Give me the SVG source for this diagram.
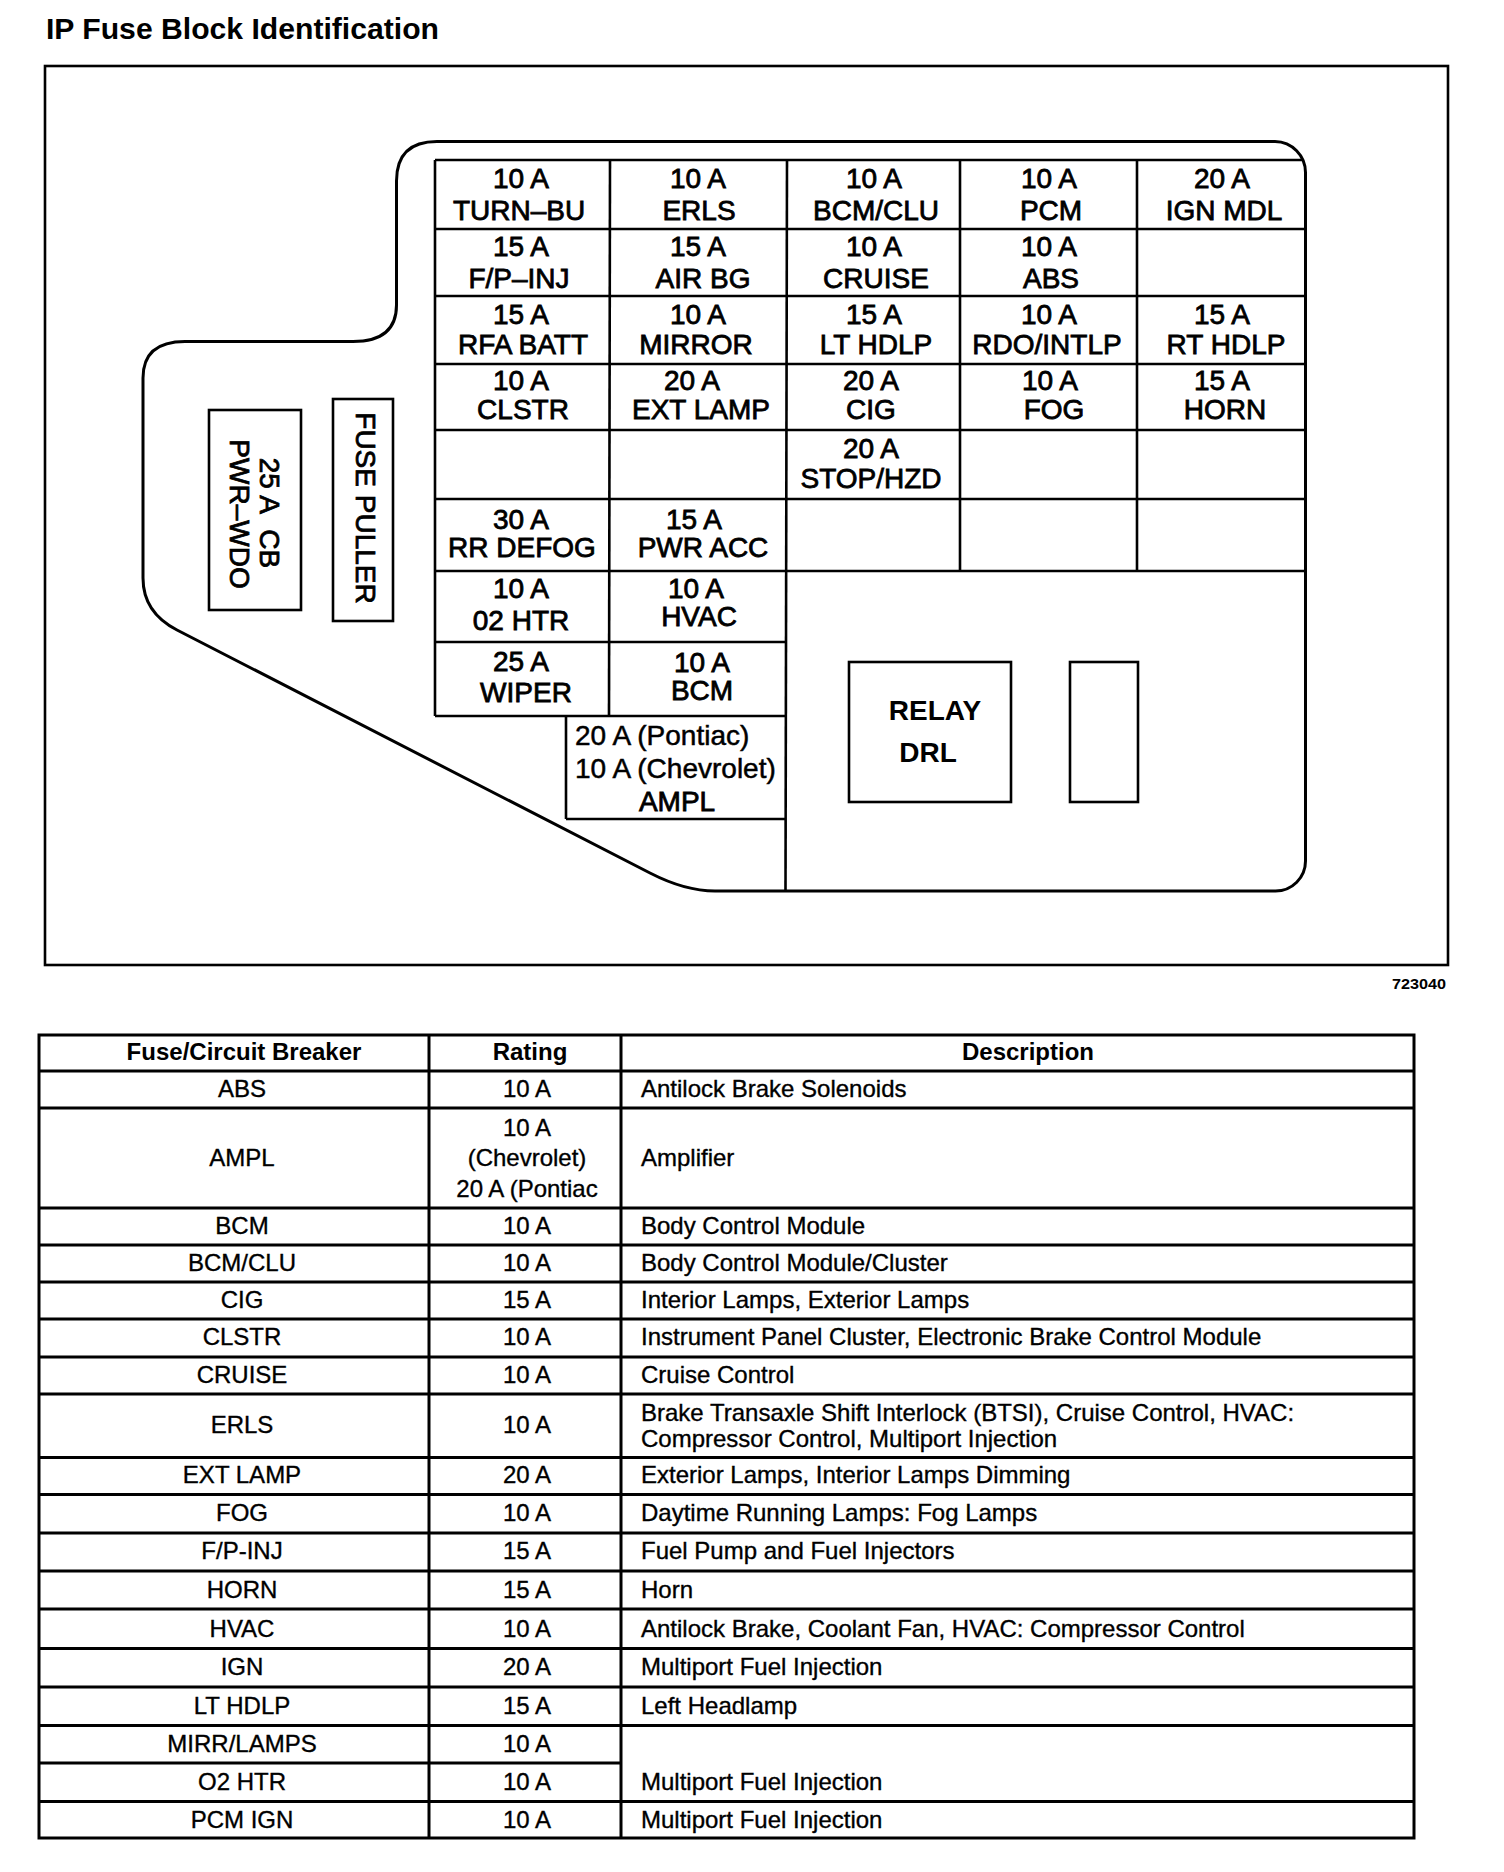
<svg xmlns="http://www.w3.org/2000/svg" width="1504" height="1872" viewBox="0 0 1504 1872">
<style>
text{font-family:"Liberation Sans",Arial,Helvetica,sans-serif;fill:#000}
.f{font-size:28px;text-anchor:middle;stroke:#000;stroke-width:0.8}
.fl{font-size:28px;text-anchor:start;stroke:#000;stroke-width:0.5}
.b{font-size:28px;font-weight:bold;text-anchor:middle}
.t{font-size:24px;text-anchor:middle;stroke:#000;stroke-width:0.35}
.d{font-size:24px;text-anchor:start;stroke:#000;stroke-width:0.35}
.h{font-size:24px;font-weight:bold;text-anchor:middle}
.ln{stroke:#000;stroke-width:3;fill:none}
.gl{stroke:#000;stroke-width:2.6;fill:none}
.box{stroke:#000;stroke-width:2.6;fill:#fff}
</style>
<rect width="1504" height="1872" fill="#fff"/>
<text id="title" x="46" y="39" font-size="29" font-weight="bold" textLength="393" lengthAdjust="spacingAndGlyphs">IP Fuse Block Identification</text>
<rect id="frame" x="45" y="66" width="1403" height="899" fill="none" stroke="#000" stroke-width="2.6"/>
<text id="figno" x="1446" y="989" font-size="14" font-weight="bold" text-anchor="end" textLength="54" lengthAdjust="spacingAndGlyphs">723040</text>

<g id="block-outline">
<path class="ln" d="M437,141.5 L1275,141.5 A31 31 0 0 1 1305.5,172.5 L1305.5,861 A30 30 0 0 1 1275.5,891 L715,891 Q685,891 650,873 L177,630 Q143,612.5 143,578 L143,378 Q143,341.5 185,341.5 L353,341.5 Q396.5,341.5 396.5,305 L396.5,181 Q396.5,141.5 437,141.5 Z"/>
</g>

<g id="grid">
<line class="gl" x1="435" y1="160" x2="1303.5" y2="160"/>
<line class="gl" x1="435" y1="229" x2="1305.5" y2="229"/>
<line class="gl" x1="435" y1="296" x2="1305.5" y2="296"/>
<line class="gl" x1="435" y1="364" x2="1305.5" y2="364"/>
<line class="gl" x1="435" y1="430" x2="1305.5" y2="430"/>
<line class="gl" x1="435" y1="499" x2="1305.5" y2="499"/>
<line class="gl" x1="435" y1="571" x2="1305.5" y2="571"/>
<line class="gl" x1="435" y1="642" x2="786" y2="642"/>
<line class="gl" x1="435" y1="716" x2="786" y2="716"/>
<line class="gl" x1="566" y1="819" x2="786" y2="819"/>
<line class="gl" x1="435" y1="160" x2="435" y2="716"/>
<line class="gl" x1="610" y1="160" x2="609" y2="716"/>
<line class="gl" x1="787" y1="160" x2="785.5" y2="891"/>
<line class="gl" x1="960" y1="160" x2="960" y2="571"/>
<line class="gl" x1="1137" y1="160" x2="1137" y2="571"/>
<line class="gl" x1="566" y1="716" x2="566" y2="819"/>
</g>

<g id="fuse-turn-bu"><text class="f" x="521" y="188">10 A</text><text class="f" x="519" y="220">TURN–BU</text></g>
<g id="fuse-erls"><text class="f" x="698" y="188">10 A</text><text class="f" x="699" y="220">ERLS</text></g>
<g id="fuse-bcm-clu"><text class="f" x="874" y="188">10 A</text><text class="f" x="876" y="220">BCM/CLU</text></g>
<g id="fuse-pcm"><text class="f" x="1049" y="188">10 A</text><text class="f" x="1051" y="220">PCM</text></g>
<g id="fuse-ign-mdl"><text class="f" x="1222" y="188">20 A</text><text class="f" x="1224" y="220">IGN MDL</text></g>

<g id="fuse-fp-inj"><text class="f" x="521" y="256">15 A</text><text class="f" x="519" y="288">F/P–INJ</text></g>
<g id="fuse-air-bg"><text class="f" x="698" y="256">15 A</text><text class="f" x="703" y="288">AIR BG</text></g>
<g id="fuse-cruise"><text class="f" x="874" y="256">10 A</text><text class="f" x="876" y="288">CRUISE</text></g>
<g id="fuse-abs"><text class="f" x="1049" y="256">10 A</text><text class="f" x="1051" y="288">ABS</text></g>

<g id="fuse-rfa-batt"><text class="f" x="521" y="324">15 A</text><text class="f" x="523" y="354">RFA BATT</text></g>
<g id="fuse-mirror"><text class="f" x="698" y="324">10 A</text><text class="f" x="696" y="354">MIRROR</text></g>
<g id="fuse-lt-hdlp"><text class="f" x="874" y="324">15 A</text><text class="f" x="876" y="354">LT HDLP</text></g>
<g id="fuse-rdo-intlp"><text class="f" x="1049" y="324">10 A</text><text class="f" x="1047" y="354">RDO/INTLP</text></g>
<g id="fuse-rt-hdlp"><text class="f" x="1222" y="324">15 A</text><text class="f" x="1226" y="354">RT HDLP</text></g>

<g id="fuse-clstr"><text class="f" x="521" y="390">10 A</text><text class="f" x="523" y="419">CLSTR</text></g>
<g id="fuse-ext-lamp"><text class="f" x="692" y="390">20 A</text><text class="f" x="701" y="419">EXT LAMP</text></g>
<g id="fuse-cig"><text class="f" x="871" y="390">20 A</text><text class="f" x="871" y="419">CIG</text></g>
<g id="fuse-fog"><text class="f" x="1050" y="390">10 A</text><text class="f" x="1054" y="419">FOG</text></g>
<g id="fuse-horn"><text class="f" x="1222" y="390">15 A</text><text class="f" x="1225" y="419">HORN</text></g>

<g id="fuse-stop-hzd"><text class="f" x="871" y="458">20 A</text><text class="f" x="871" y="488">STOP/HZD</text></g>

<g id="fuse-rr-defog"><text class="f" x="521" y="529">30 A</text><text class="f" x="522" y="557">RR DEFOG</text></g>
<g id="fuse-pwr-acc"><text class="f" x="694" y="529">15 A</text><text class="f" x="703" y="557">PWR ACC</text></g>

<g id="fuse-02-htr"><text class="f" x="521" y="598">10 A</text><text class="f" x="521" y="630">02 HTR</text></g>
<g id="fuse-hvac"><text class="f" x="696" y="598">10 A</text><text class="f" x="699" y="626">HVAC</text></g>

<g id="fuse-wiper"><text class="f" x="521" y="671">25 A</text><text class="f" x="526" y="702">WIPER</text></g>
<g id="fuse-bcm"><text class="f" x="702" y="672">10 A</text><text class="f" x="702" y="700">BCM</text></g>

<g id="fuse-ampl"><text class="fl" x="575" y="745">20 A (Pontiac)</text><text class="fl" x="575" y="778">10 A (Chevrolet)</text><text class="f" x="677" y="811">AMPL</text></g>

<g id="relay-drl"><rect class="box" x="849" y="662" width="162" height="140"/><text class="b" x="935" y="720">RELAY</text><text class="b" x="928" y="762">DRL</text></g>
<g id="relay-slot"><rect class="box" x="1070" y="662" width="68" height="140"/></g>

<g id="cb-pwr-wdo"><rect class="box" x="209" y="410" width="92" height="200"/><text class="f" transform="translate(260,513) rotate(90)">25 A&#160;&#160;CB</text><text class="f" transform="translate(230,514) rotate(90)">PWR–WDO</text></g>
<g id="fuse-puller"><rect class="box" x="333" y="399" width="60" height="222"/><text class="f" transform="translate(356,508) rotate(90)">FUSE PULLER</text></g>

<g id="table-lines">
<rect class="ln" x="39" y="1035" width="1375" height="803"/>
<line class="ln" x1="39" y1="1071" x2="1414" y2="1071"/>
<line class="ln" x1="39" y1="1108" x2="1414" y2="1108"/>
<line class="ln" x1="39" y1="1208" x2="1414" y2="1208"/>
<line class="ln" x1="39" y1="1245" x2="1414" y2="1245"/>
<line class="ln" x1="39" y1="1282" x2="1414" y2="1282"/>
<line class="ln" x1="39" y1="1319" x2="1414" y2="1319"/>
<line class="ln" x1="39" y1="1357" x2="1414" y2="1357"/>
<line class="ln" x1="39" y1="1394" x2="1414" y2="1394"/>
<line class="ln" x1="39" y1="1457.5" x2="1414" y2="1457.5"/>
<line class="ln" x1="39" y1="1494.5" x2="1414" y2="1494.5"/>
<line class="ln" x1="39" y1="1533" x2="1414" y2="1533"/>
<line class="ln" x1="39" y1="1571" x2="1414" y2="1571"/>
<line class="ln" x1="39" y1="1609" x2="1414" y2="1609"/>
<line class="ln" x1="39" y1="1648.5" x2="1414" y2="1648.5"/>
<line class="ln" x1="39" y1="1687" x2="1414" y2="1687"/>
<line class="ln" x1="39" y1="1725.5" x2="1414" y2="1725.5"/>
<line class="ln" x1="39" y1="1763" x2="621" y2="1763"/>
<line class="ln" x1="39" y1="1801.5" x2="1414" y2="1801.5"/>
<line class="ln" x1="429" y1="1035" x2="429" y2="1838"/>
<line class="ln" x1="621" y1="1035" x2="621" y2="1838"/>
</g>

<g id="table-header"><text class="h" x="244" y="1060">Fuse/Circuit Breaker</text><text class="h" x="530" y="1060">Rating</text><text class="h" x="1028" y="1060">Description</text></g>
<g id="row-abs"><text class="t" x="242" y="1097">ABS</text><text class="t" x="527" y="1097">10 A</text><text class="d" x="641" y="1097">Antilock Brake Solenoids</text></g>
<g id="row-ampl"><text class="t" x="242" y="1166">AMPL</text><text class="t" x="527" y="1136">10 A</text><text class="t" x="527" y="1166">(Chevrolet)</text><text class="t" x="527" y="1197">20 A (Pontiac</text><text class="d" x="641" y="1166">Amplifier</text></g>
<g id="row-bcm"><text class="t" x="242" y="1234">BCM</text><text class="t" x="527" y="1234">10 A</text><text class="d" x="641" y="1234">Body Control Module</text></g>
<g id="row-bcm-clu"><text class="t" x="242" y="1271">BCM/CLU</text><text class="t" x="527" y="1271">10 A</text><text class="d" x="641" y="1271">Body Control Module/Cluster</text></g>
<g id="row-cig"><text class="t" x="242" y="1308">CIG</text><text class="t" x="527" y="1308">15 A</text><text class="d" x="641" y="1308">Interior Lamps, Exterior Lamps</text></g>
<g id="row-clstr"><text class="t" x="242" y="1345">CLSTR</text><text class="t" x="527" y="1345">10 A</text><text class="d" x="641" y="1345">Instrument Panel Cluster, Electronic Brake Control Module</text></g>
<g id="row-cruise"><text class="t" x="242" y="1383">CRUISE</text><text class="t" x="527" y="1383">10 A</text><text class="d" x="641" y="1383">Cruise Control</text></g>
<g id="row-erls"><text class="t" x="242" y="1433">ERLS</text><text class="t" x="527" y="1433">10 A</text><text class="d" x="641" y="1421">Brake Transaxle Shift Interlock (BTSI), Cruise Control, HVAC:</text><text class="d" x="641" y="1447">Compressor Control, Multiport Injection</text></g>
<g id="row-ext-lamp"><text class="t" x="242" y="1483">EXT LAMP</text><text class="t" x="527" y="1483">20 A</text><text class="d" x="641" y="1483">Exterior Lamps, Interior Lamps Dimming</text></g>
<g id="row-fog"><text class="t" x="242" y="1521">FOG</text><text class="t" x="527" y="1521">10 A</text><text class="d" x="641" y="1521">Daytime Running Lamps: Fog Lamps</text></g>
<g id="row-fp-inj"><text class="t" x="242" y="1559">F/P-INJ</text><text class="t" x="527" y="1559">15 A</text><text class="d" x="641" y="1559">Fuel Pump and Fuel Injectors</text></g>
<g id="row-horn"><text class="t" x="242" y="1598">HORN</text><text class="t" x="527" y="1598">15 A</text><text class="d" x="641" y="1598">Horn</text></g>
<g id="row-hvac"><text class="t" x="242" y="1637">HVAC</text><text class="t" x="527" y="1637">10 A</text><text class="d" x="641" y="1637">Antilock Brake, Coolant Fan, HVAC: Compressor Control</text></g>
<g id="row-ign"><text class="t" x="242" y="1675">IGN</text><text class="t" x="527" y="1675">20 A</text><text class="d" x="641" y="1675">Multiport Fuel Injection</text></g>
<g id="row-lt-hdlp"><text class="t" x="242" y="1714">LT HDLP</text><text class="t" x="527" y="1714">15 A</text><text class="d" x="641" y="1714">Left Headlamp</text></g>
<g id="row-mirr-lamps"><text class="t" x="242" y="1752">MIRR/LAMPS</text><text class="t" x="527" y="1752">10 A</text></g>
<g id="row-o2-htr"><text class="t" x="242" y="1790">O2 HTR</text><text class="t" x="527" y="1790">10 A</text><text class="d" x="641" y="1790">Multiport Fuel Injection</text></g>
<g id="row-pcm-ign"><text class="t" x="242" y="1828">PCM IGN</text><text class="t" x="527" y="1828">10 A</text><text class="d" x="641" y="1828">Multiport Fuel Injection</text></g>
</svg>
